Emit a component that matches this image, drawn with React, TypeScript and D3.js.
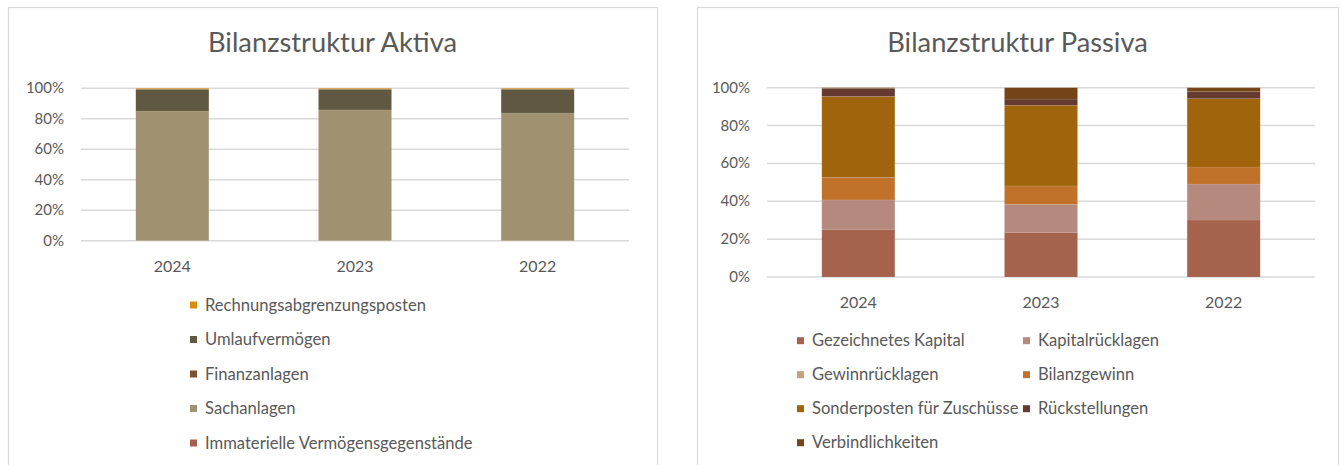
import React from "react";
import * as d3 from "d3";

const years = ["2024", "2023", "2022"];
const yTicks = [0, 0.2, 0.4, 0.6, 0.8, 1];

// Aktiva (percent of total), stacked bottom -> top
const aktivaSeries = [
  "Immaterielle Vermögensgegenstände",
  "Sachanlagen",
  "Finanzanlagen",
  "Umlaufvermögen",
  "Rechnungsabgrenzungsposten",
];
const aktivaColors = ["#A5614F", "#A09270", "#7B5230", "#605840", "#D98B12"];
const immaterielle = [0, 0, 0];
const sachanlagen = [85.1, 85.8, 83.8];
const finanzanlagen = [0, 0, 0];
const umlaufvermoegen = [14.3, 13.6, 15.6];
const rechnungsabgrenzung = [0.6, 0.6, 0.6];

// Passiva (percent of total), stacked bottom -> top
const passivaSeries = [
  "Gezeichnetes Kapital",
  "Kapitalrücklagen",
  "Gewinnrücklagen",
  "Bilanzgewinn",
  "Sonderposten für Zuschüsse",
  "Rückstellungen",
  "Verbindlichkeiten",
];
const passivaColors = ["#A5634E", "#B5897D", "#C9A075", "#C0722B", "#A0640C", "#653A2F", "#744418"];
const gezeichnetesKapital = [25.2, 23.6, 30.1];
const kapitalruecklagen = [15.5, 14.8, 19.0];
const gewinnruecklagen = [0, 0, 0];
const bilanzgewinn = [11.9, 9.7, 9.0];
const sonderposten = [42.8, 42.6, 36.1];
const rueckstellungen = [4.2, 3.3, 3.7];
const verbindlichkeiten = [0.4, 6.0, 2.1];

const FONT = "Lato, 'Open Sans', sans-serif";
const TEXT = "#595959";
const GRID = "#D9D9D9";

type ChartProps = {
  title: string;
  series: string[];
  colors: string[];
  values: number[][];
  card: { x: number; y: number; w: number; h: number };
  plot: { x0: number; x1: number; y0: number; y1: number };
  legend: (i: number) => { x: number; y: number };
  legendOrder: number[];
};

function StackedChart({ title, series, colors, values, card, plot, legend, legendOrder }: ChartProps) {
  const rows = years.map((yr, j) => {
    const o: any = { year: yr };
    const total = d3.sum(values, (v) => v[j]);
    series.forEach((s, i) => (o[s] = values[i][j] / total));
    return o;
  });
  const stacked = d3.stack<any>().keys(series)(rows);
  const x = d3.scaleBand().domain(years).range([plot.x0, plot.x1]).paddingInner(0.6).paddingOuter(0.3);
  const y = d3.scaleLinear().domain([0, 1]).range([plot.y0, plot.y1]);
  const pct = d3.format(".0%");
  return (
    <g>
      <rect x={card.x + 0.5} y={card.y + 0.5} width={card.w} height={card.h} fill="#fff" stroke={GRID} strokeWidth={1.2} />
      <text x={card.x + card.w / 2} y={52} textAnchor="middle" fontFamily={FONT} fontSize={27.3} fill={TEXT}>
        {title}
      </text>
      {yTicks.map((t) => (
        <g key={t}>
          <line x1={plot.x0} x2={plot.x1} y1={y(t)} y2={y(t)} stroke={GRID} strokeWidth={1.5} />
          <text x={plot.x0 - 17} y={y(t) + 5} textAnchor="end" fontFamily={FONT} fontSize={15} fill={TEXT}>
            {pct(t)}
          </text>
        </g>
      ))}
      {stacked.map((layer, i) => (
        <g key={layer.key} fill={colors[i]}>
          {layer.map((d, j) =>
            d[1] - d[0] > 0 ? (
              <rect
                key={j}
                x={x(years[j])!}
                width={x.bandwidth()}
                y={y(d[1])}
                height={y(d[0]) - y(d[1])}
                stroke="#ffffff"
                strokeOpacity={0.15}
                strokeWidth={0.6}
              />
            ) : null
          )}
        </g>
      ))}
      {years.map((yr) => (
        <text key={yr} x={x(yr)! + x.bandwidth() / 2} y={plot.y0 + 31} textAnchor="middle" fontFamily={FONT} fontSize={16} fill={TEXT}>
          {yr}
        </text>
      ))}
      {legendOrder.map((si, k) => {
        const p = legend(k);
        return (
          <g key={series[si]}>
            <rect x={p.x} y={p.y - 3.5} width={7} height={7} fill={colors[si]} />
            <text x={p.x + 15} y={p.y + 5.5} fontFamily={FONT} fontSize={16.6} fill={TEXT}>
              {series[si]}
            </text>
          </g>
        );
      })}
    </g>
  );
}

export default function App() {
  return (
    <svg width={1341} height={465} style={{ position: "absolute", left: 0, top: 0 }}>
      <rect width={1341} height={465} fill="#fff" />
      <StackedChart
        title="Bilanzstruktur Aktiva"
        series={aktivaSeries}
        colors={aktivaColors}
        values={[immaterielle, sachanlagen, finanzanlagen, umlaufvermoegen, rechnungsabgrenzung]}
        card={{ x: 8, y: 7, w: 649, h: 470 }}
        plot={{ x0: 81, x1: 629, y0: 240.7, y1: 88.3 }}
        legend={(k) => ({ x: 190, y: 305 + k * 34.5 })}
        legendOrder={[4, 3, 2, 1, 0]}
      />
      <StackedChart
        title="Bilanzstruktur Passiva"
        series={passivaSeries}
        colors={passivaColors}
        values={[gezeichnetesKapital, kapitalruecklagen, gewinnruecklagen, bilanzgewinn, sonderposten, rueckstellungen, verbindlichkeiten]}
        card={{ x: 697, y: 7, w: 641, h: 470 }}
        plot={{ x0: 767, x1: 1315, y0: 277, y1: 87.7 }}
        legend={(k) => ({ x: k % 2 === 0 ? 797 : 1023, y: 340.7 + Math.floor(k / 2) * 34 })}
        legendOrder={[0, 1, 2, 3, 4, 5, 6]}
      />
    </svg>
  );
}
